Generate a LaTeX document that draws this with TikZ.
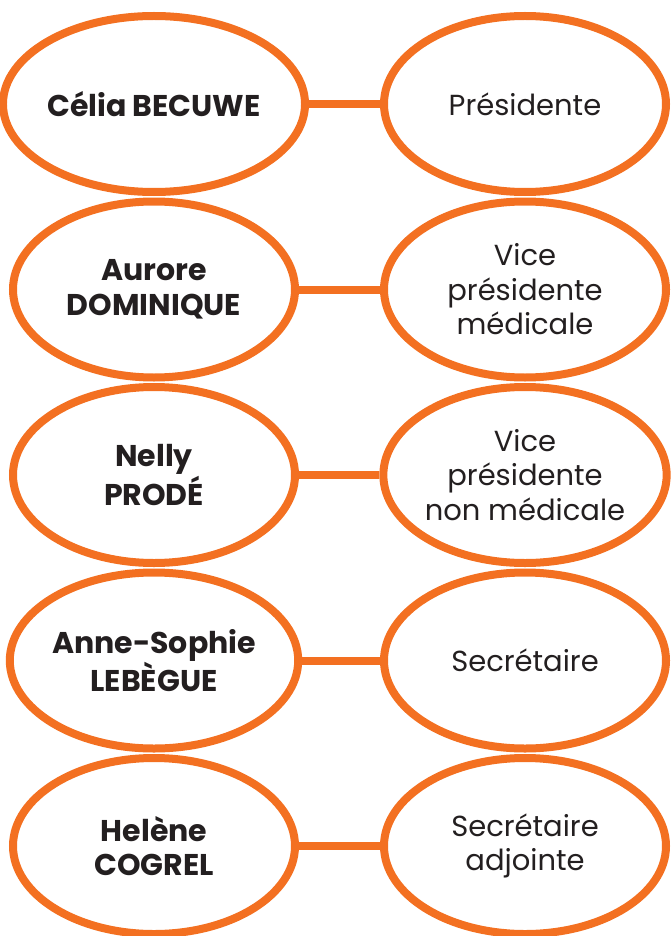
\documentclass[tikz,border=0pt]{standalone}
\usepackage{fontspec}
\setmainfont{Poppins}
\usetikzlibrary{shapes.geometric}
\definecolor{org}{HTML}{F37021}
\definecolor{ink}{HTML}{231F20}
\tikzset{
  oval/.style={ellipse, draw=org, line width=8pt, minimum width=282pt, minimum height=176pt, inner sep=0pt, align=center, text=ink, font=\fontsize{29}{34.5}\selectfont},
  person/.style={oval, font=\fontsize{30}{34.5}\selectfont\bfseries},
  link/.style={draw=org, line width=8pt}
}
\begin{document}
\begin{tikzpicture}[x=1pt,y=-1pt]
\useasboundingbox (0,0) rectangle (670,936);
\node[person] (n1) at (154,104) {Célia BECUWE};
\node[oval] (r1) at (525,104) {Présidente};
\node[person] (n2) at (154,289.5) {Aurore\\DOMINIQUE};
\node[oval] (r2) at (525,289.5) {Vice\\présidente\\médicale};
\node[person] (n3) at (154,475) {Nelly\\PRODÉ};
\node[oval] (r3) at (525,475) {Vice\\présidente\\non médicale};
\node[person] (n4) at (154,660.5) {Anne-Sophie\\LEBÈGUE};
\node[oval] (r4) at (525,660.5) {Secrétaire};
\node[person] (n5) at (154,846) {Helène\\COGREL};
\node[oval] (r5) at (525,846) {Secrétaire\\adjointe};
\foreach \i in {1,...,5} {\draw[link] (n\i.east) -- (r\i.west);}
\end{tikzpicture}
\end{document}
